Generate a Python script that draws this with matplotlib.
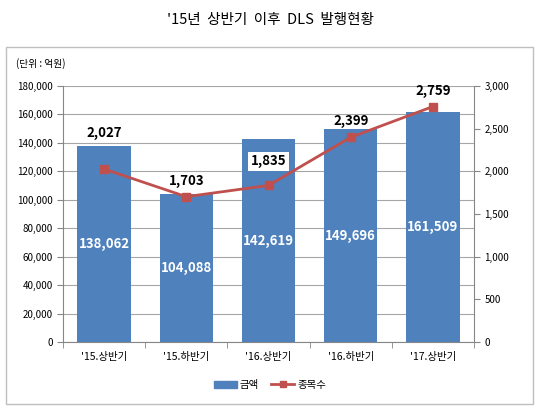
import matplotlib.pyplot as plt
from matplotlib.patches import Rectangle
from matplotlib.ticker import FuncFormatter, MultipleLocator

plt.rcParams['font.family'] = ['Noto Sans CJK KR', 'DejaVu Sans']

categories = ["'15.상반기", "'15.하반기", "'16.상반기", "'16.하반기", "'17.상반기"]
amount = [138062, 104088, 142619, 149696, 161509]
count = [2027, 1703, 1835, 2399, 2759]

bar_color = '#4F81BD'
line_color = '#C0504D'

fig = plt.figure(figsize=(5.4, 4.09), dpi=100)
fig.patches.append(Rectangle((6 / 540, 5 / 409), 527 / 540, 357 / 409,
                             transform=fig.transFigure, fill=False,
                             edgecolor='#BFBFBF', linewidth=1))
fig.text(0.5, 1 - 20 / 409, "'15년  상반기  이후  DLS  발행현황", ha='center', va='center', fontsize=10.5)
fig.text(16 / 540, 1 - 64 / 409, '(단위 : 억원)', ha='left', va='center', fontsize=7)

ax1 = fig.add_axes([63 / 540, 1 - 342 / 409, 411 / 540, 256 / 409])
x = list(range(len(categories)))
ax1.bar(x, amount, width=0.65, color=bar_color, zorder=2)
ax1.set_xlim(-0.5, len(categories) - 0.5)
ax1.set_ylim(0, 180000)
ax1.yaxis.set_major_locator(MultipleLocator(20000))
ax1.yaxis.set_major_formatter(FuncFormatter(lambda v, p: f'{int(v):,}'))
ax1.grid(axis='y', color='#A6A6A6', linewidth=0.8, zorder=0)
ax1.set_xticks(x)
ax1.set_xticklabels(categories, fontsize=7.5)
ax1.set_xticks([i + 0.5 for i in range(-1, len(categories))], minor=True)
ax1.tick_params(axis='x', which='major', length=0, pad=7)
ax1.tick_params(axis='x', which='minor', length=4, color='#868686')
ax1.tick_params(axis='y', labelsize=7, length=4, color='#868686')
for s in ['top', 'right']:
    ax1.spines[s].set_visible(False)
ax1.spines['left'].set_color('#868686')
ax1.spines['bottom'].set_color('#868686')

for xi, v in zip(x, amount):
    ax1.text(xi, v / 2, f'{v:,}', ha='center', va='center', color='white',
             fontsize=9.5, fontweight='bold')

ax2 = ax1.twinx()
ax2.plot(x, count, color=line_color, linewidth=2, marker='s', markersize=6, zorder=3)
ax2.set_ylim(0, 3000)
ax2.yaxis.set_major_locator(MultipleLocator(500))
ax2.yaxis.set_major_formatter(FuncFormatter(lambda v, p: f'{int(v):,}'))
ax2.tick_params(axis='y', labelsize=7, length=4, color='#868686')
for s in ['top', 'left', 'bottom']:
    ax2.spines[s].set_visible(False)
ax2.spines['right'].set_color('#868686')

# label offsets in pixels above each marker
label_offsets = [36, 16, 24, 16, 16]
for xi, v, off in zip(x, count, label_offsets):
    box = dict(facecolor='white', edgecolor='none', pad=2) if v == 1835 else None
    ax2.annotate(f'{v:,}', (xi, v), xytext=(0, off), textcoords='offset pixels',
                 ha='center', va='center', color='black', fontsize=9.5,
                 fontweight='bold', bbox=box)

h1 = Rectangle((0, 0), 1, 1, color=bar_color)
h2, = ax2.plot([], [], color=line_color, linewidth=2, marker='s', markersize=5)
fig.legend([h1, h2], ['금액', '종목수'], loc='center', bbox_to_anchor=(0.5, 1 - 385 / 409),
           ncol=2, frameon=False, fontsize=7.5, handlelength=2.2, columnspacing=1.2,
           handletextpad=0.3)

fig.savefig('out.png', dpi=100)
